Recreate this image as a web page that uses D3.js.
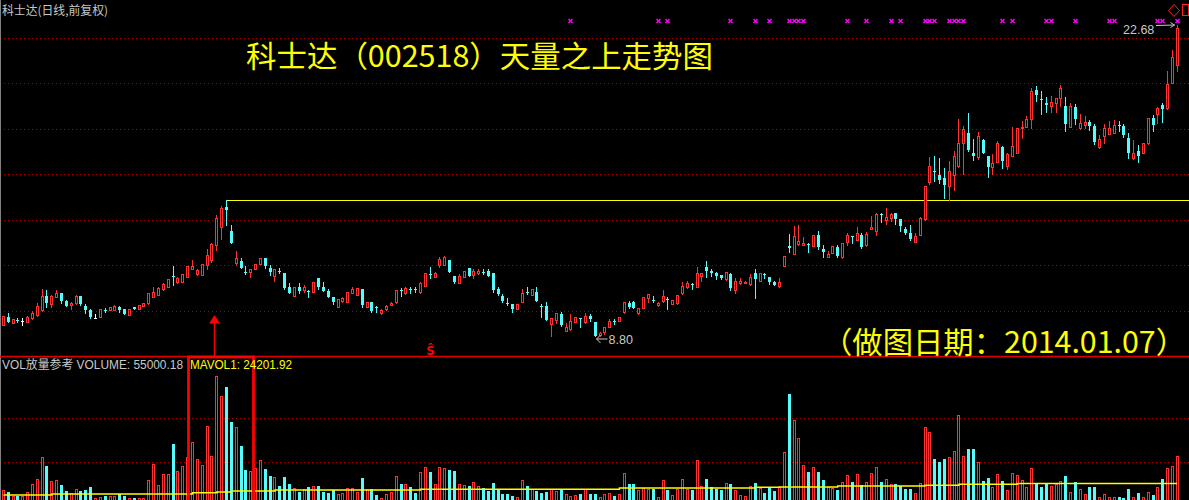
<!DOCTYPE html>
<html><head><meta charset="utf-8">
<script src="https://cdn.jsdelivr.net/npm/d3@7"></script>
<style>html,body{margin:0;padding:0;background:#000;overflow:hidden}svg{display:block}</style>
</head><body><svg id="c" width="1189" height="500"></svg>
<script>
// ---------------- data ----------------
const open = [
9.29,9.66,9.37,9.53,9.47,9.44,9.59,9.74,9.96,10.58,
10.21,10.55,10.70,10.37,10.20,10.26,10.58,10.14,9.96,9.62,
9.66,9.96,9.96,9.96,10.11,9.99,9.74,10.08,10.02,10.15,
10.26,10.55,10.63,10.88,11.00,11.47,11.22,11.21,11.44,11.80,
11.56,11.52,11.96,12.19,12.85,13.64,14.56,13.48,12.07,12.14,
11.64,11.65,11.79,12.01,12.26,11.82,11.47,11.71,11.59,11.00,
10.58,10.97,10.85,10.82,10.77,11.37,10.97,10.82,10.52,10.11,
10.36,10.33,10.73,10.63,10.89,10.11,10.30,10.11,9.82,9.99,
10.20,10.30,10.86,10.70,10.89,10.91,10.75,11.04,11.56,11.44,
11.95,11.96,12.19,11.47,11.17,11.44,11.82,11.52,11.59,11.67,
11.70,11.59,10.89,10.58,10.28,10.21,10.00,10.33,10.76,10.63,
10.77,10.15,10.14,9.34,9.51,9.78,9.04,9.10,9.44,9.60,
9.44,9.69,9.42,8.84,8.99,9.21,9.48,9.47,9.86,10.26,
10.33,9.81,10.06,10.48,10.42,10.18,10.36,10.45,10.23,10.26,
10.70,10.97,11.13,11.00,11.49,11.89,11.70,11.62,11.52,11.33,
11.55,10.85,11.15,11.17,11.10,11.59,11.26,11.58,11.42,11.22,
11.03,11.92,12.81,12.45,12.90,12.85,12.90,12.81,13.30,12.68,
12.33,12.51,12.78,12.31,13.00,13.24,13.08,13.30,12.85,13.57,
13.49,14.25,13.97,14.07,14.29,14.01,13.58,13.40,13.00,13.30,
14.00,15.66,16.17,15.97,15.85,15.48,15.97,16.38,17.39,17.86,
16.97,16.76,17.53,16.82,16.32,16.57,17.21,16.39,16.83,16.97,
18.06,18.13,18.46,19.76,19.36,19.19,19.06,19.17,19.39,19.05,
18.13,18.99,18.06,18.20,18.35,18.16,17.21,17.71,17.80,17.86,
18.21,18.16,17.61,16.72,17.04,16.97,17.39,18.50,18.68,19.09,
18.95,20.09,20.88];
const high = [
9.69,9.84,9.56,9.62,9.59,9.69,9.91,10.26,10.88,10.85,
10.63,10.85,10.73,10.40,10.33,10.63,10.60,10.23,9.99,9.78,
10.00,10.03,10.11,10.18,10.14,10.00,10.00,10.11,10.20,10.27,
10.72,11.00,10.97,11.15,11.34,11.92,11.42,11.58,11.93,12.19,
11.77,12.02,12.66,12.93,14.19,14.59,14.85,13.75,12.59,12.29,
11.92,11.79,12.01,12.28,12.28,11.96,11.79,11.84,11.60,11.15,
10.98,11.15,11.07,10.85,11.21,11.38,11.19,10.89,10.54,10.45,
10.52,10.76,10.97,10.95,10.89,10.32,10.32,10.14,10.00,10.17,
10.33,10.86,10.92,10.97,10.97,10.97,11.19,11.61,11.86,11.64,
12.33,12.35,12.20,11.49,11.56,11.71,11.83,11.77,11.77,11.79,
11.77,11.60,11.00,10.67,10.48,10.23,10.23,10.88,11.00,10.89,
10.97,10.21,10.30,9.60,9.84,9.88,9.39,9.78,9.65,9.60,
9.84,9.78,9.44,8.98,9.20,9.54,9.56,9.65,10.32,10.37,
10.35,10.05,10.54,10.67,10.60,10.32,10.85,10.55,10.42,10.64,
11.19,11.25,11.15,11.89,11.61,12.14,11.79,11.64,11.53,11.65,
11.62,11.37,11.37,11.23,11.56,11.79,11.61,11.59,11.43,11.24,
11.37,12.38,13.35,13.70,13.75,13.20,12.93,13.31,13.48,12.85,
12.59,12.82,12.85,12.94,13.40,13.26,13.64,13.40,13.45,14.15,
14.27,14.27,14.52,14.29,14.29,14.01,13.67,13.75,13.40,14.09,
15.50,16.78,16.82,16.72,16.30,16.60,17.04,18.46,18.16,18.75,
17.58,17.90,17.58,16.83,16.91,17.49,17.27,16.94,18.10,18.07,
18.38,18.60,19.84,19.94,19.72,19.46,19.49,19.40,19.98,19.44,
19.17,19.14,18.69,18.60,18.42,18.25,17.76,18.25,18.38,18.42,
18.38,18.25,17.83,17.53,17.31,17.40,18.53,18.65,19.02,19.20,
20.61,21.54,22.68];
const low = [
9.29,9.44,9.36,9.42,9.29,9.42,9.54,9.70,9.92,10.10,
10.10,10.54,10.26,10.14,10.00,10.24,10.20,9.81,9.59,9.62,
9.65,9.88,9.95,9.95,9.88,9.77,9.72,9.99,10.00,10.14,
10.24,10.52,10.61,10.86,10.98,11.07,11.15,11.19,11.43,11.79,
11.52,11.50,11.77,12.11,12.63,13.12,13.75,12.94,11.96,11.82,
11.58,11.44,11.77,11.99,11.83,11.52,11.26,11.59,10.91,10.72,
10.57,10.70,10.75,10.52,10.76,10.89,10.80,10.54,10.23,10.09,
10.32,10.32,10.70,10.61,10.10,10.09,9.87,9.85,9.78,9.96,
10.18,10.28,10.58,10.68,10.70,10.75,10.73,11.03,11.40,11.43,
11.86,11.95,11.65,11.17,11.15,11.43,11.47,11.40,11.55,11.56,
11.47,10.75,10.63,10.33,10.18,9.88,9.99,10.30,10.67,10.61,
10.36,9.66,9.50,8.81,9.37,9.25,9.02,9.07,9.42,9.21,
9.37,9.48,8.80,8.82,8.89,9.19,9.35,9.45,9.84,10.03,
10.05,9.79,10.05,10.33,10.33,10.15,10.33,9.99,10.21,10.24,
10.67,10.92,10.88,10.98,11.26,11.42,11.47,11.33,11.35,11.31,
10.85,10.73,11.10,11.16,11.07,10.48,11.25,11.40,11.12,11.06,
11.00,11.91,12.54,12.44,12.85,12.84,12.56,12.80,12.66,12.33,
12.32,12.50,12.33,12.29,12.85,12.96,13.06,12.73,12.81,13.55,
13.30,13.89,13.79,13.92,13.79,13.49,13.36,13.08,12.99,13.29,
13.98,15.57,15.72,15.63,14.96,14.86,15.31,16.34,16.02,17.06,
16.64,16.69,16.95,15.87,16.02,16.55,16.27,16.24,16.82,16.95,
17.64,18.11,18.08,19.26,18.69,18.79,18.79,18.79,19.06,17.95,
18.11,18.25,18.04,18.06,17.98,17.36,17.19,17.41,17.79,17.85,
17.95,17.68,16.74,16.70,16.57,16.94,17.37,17.95,18.28,18.35,
18.93,20.07,20.62];
const close = [
9.69,9.44,9.54,9.50,9.47,9.66,9.81,10.14,10.58,10.26,
10.58,10.70,10.37,10.15,10.28,10.60,10.21,9.96,9.66,9.62,
9.99,9.91,10.08,10.14,9.96,9.78,9.99,10.02,10.18,10.26,
10.70,10.77,10.95,11.10,11.33,11.42,11.37,11.56,11.92,11.94,
11.74,12.01,12.41,12.90,14.04,14.49,14.41,12.96,12.26,11.83,
11.59,11.77,11.99,12.26,11.92,11.67,11.77,11.68,10.92,10.73,
10.97,10.82,10.97,10.79,11.19,11.00,10.82,10.55,10.33,10.44,
10.48,10.75,10.89,10.94,10.18,10.30,9.91,10.07,9.96,10.15,
10.27,10.85,10.84,10.95,10.86,10.88,11.17,11.59,11.53,11.62,
12.22,12.33,11.67,11.19,11.47,11.70,11.49,11.70,11.70,11.64,
11.49,10.85,10.66,10.37,10.26,9.99,10.21,10.73,10.73,10.88,
10.37,10.12,9.51,9.59,9.81,9.29,9.21,9.48,9.63,9.57,
9.69,9.54,8.81,8.93,9.19,9.48,9.45,9.63,10.30,10.11,
10.06,10.03,10.52,10.66,10.39,10.25,10.58,10.42,10.40,10.63,
11.04,11.15,11.10,11.62,11.59,11.71,11.59,11.47,11.37,11.64,
10.92,11.25,11.25,11.21,11.44,11.33,11.59,11.55,11.22,11.07,
11.22,12.36,12.72,13.26,13.03,12.93,12.87,13.30,12.78,12.56,
12.45,12.81,12.36,12.93,13.30,13.21,13.38,12.75,13.35,13.64,
14.22,14.22,14.12,14.22,14.01,13.70,13.38,13.11,13.27,14.07,
15.48,16.37,16.14,15.75,15.53,16.15,16.82,17.39,18.01,17.09,
16.82,17.71,16.97,16.32,16.52,17.39,16.61,16.90,17.27,18.06,
18.13,18.46,19.72,19.54,19.33,19.09,19.24,19.39,19.84,18.25,
19.05,18.46,18.28,18.35,18.17,17.46,17.57,18.06,18.06,18.20,
18.19,17.76,16.97,16.97,16.82,17.39,18.50,18.20,18.95,18.91,
20.02,21.24,22.51];
const volume = [
16900,14300,10500,10500,10500,14300,23300,29300,53800,44000,
27000,28200,22500,15800,13200,17700,15800,16900,20600,8200,
9400,10500,10500,10500,12400,10500,8200,8200,8200,8200,
28200,46200,22500,34900,34900,68700,38300,44000,54400,71300,
51500,45100,89000,55200,145400,122800,133300,93900,87600,66500,
39400,38300,41400,50700,40600,32700,31900,21400,31900,23300,
19500,14700,17700,19900,21400,21400,14300,13200,16900,12100,
13200,19500,18800,15000,30800,18000,17700,11300,8200,12400,
14300,32700,23700,23700,20300,13200,36900,42500,36900,23700,
42500,41400,39400,38300,23700,22500,21400,25600,21400,19200,
16100,24800,17700,12400,12400,10100,9000,28200,21400,17700,
15800,13500,14700,17700,15800,16900,12400,10100,11300,12400,
17700,12400,12400,9000,12400,13500,10100,12400,36100,23700,
23700,16900,19200,18000,18000,9000,28200,16900,11300,18000,
29300,18000,16900,50700,21400,29300,20300,18000,16900,24800,
23700,16900,11300,10100,21400,24800,19200,13500,19200,15800,
20300,59700,125100,95800,75500,45100,37200,42800,37200,28200,
20300,19200,16900,25900,33800,25900,34900,22500,25900,36100,
42800,25900,29300,23700,23700,21400,18000,18000,13500,24800,
87900,82300,51800,48500,51800,54100,60900,101400,55200,63100,
63100,48500,27000,30400,20300,34900,27000,16900,36100,33800,
28200,20300,41700,23700,20300,23700,21400,23700,27000,32700,
14700,25900,18000,12400,20300,20300,9000,12400,9000,9000,
9000,7900,18000,9000,13500,9000,14700,11300,20300,29300,
41700,44000,55000.18];
// MAVOL1: [first bar index, value]
const maVolSteps = [[0,11270],[10,12400],[39,13860],[44,14650],[47,15780],[56,16900],
  [86,17690],[127,19160],[155,19950],[160,20290],[172,21410],[190,22200],[197,23330],[209,24201.92]];
const signalIdx = [117,135,137,150,155,158,162,163,164,165,174,178,183,185,190,191,192,
  195,196,197,198,206,208,215,216,221,228,229,238,239,242];
const highIdx = 242, lowIdx = 122;
const highLabel = "22.68", lowLabel = "8.80";
const resistanceLevel = 14.85, resistanceStart = 46;
const volumeMarkIdx = 44, sMarkIdx = 88;
const titleText = "科士达（002518）天量之上走势图";
const dateText = "（做图日期：2014.01.07）";
const headerText = "科士达(日线,前复权)";
const volLabel = "VOL放量参考 VOLUME: 55000.18";
const maLabel = "MAVOL1: 24201.92";

// ---------------- drawing ----------------
const W = 1189, H = 500, N = close.length;
const sepY = 356;
const RED = "#ff3232", CYAN = "#54fcfc", YEL = "#ffff00", GRID = "#b00000";
const svg = d3.select("#c");
svg.append("rect").attr("width", W).attr("height", H).attr("fill", "#000");

const x = d3.scaleLinear().domain([0, N - 1]).range([3.3, 1177.3]);
const y = d3.scaleLinear().domain([8.80, 22.68]).range([336, 24.5]);
const yv = d3.scaleLinear().domain([0, 150000]).range([505, 505 - 150000 / 1127]);
const px = i => Math.round(x(i) - 0.5);   // pixel column of candle i
const ry = v => Math.round(v);

// grid
const g0 = svg.append("g").attr("stroke", GRID).attr("stroke-dasharray", "1,3").attr("stroke-width", 1);
d3.range(1, 8).forEach(k => {
  const yy = Math.round(sepY - k * 45.5) + 0.5;
  g0.append("line").attr("x1", 0).attr("x2", W).attr("y1", yy).attr("y2", yy);
});
[1, 2].forEach(k => {
  const yy = Math.round(505 - k * 43.35) + 0.5;
  g0.append("line").attr("x1", 0).attr("x2", W).attr("y1", yy).attr("y2", yy);
});

// left border
svg.append("line").attr("x1", 0.5).attr("x2", 0.5).attr("y1", 0).attr("y2", H).attr("stroke", "#808080");

// resistance line
svg.append("line").attr("x1", px(resistanceStart)).attr("x2", W)
  .attr("y1", ry(y(resistanceLevel)) + 0.5).attr("y2", ry(y(resistanceLevel)) + 0.5)
  .attr("stroke", YEL).attr("stroke-width", 1);

// candles
const kind = i => close[i] > open[i] ? "up" : (close[i] < open[i] ? "down" : "flat");
const gc = svg.append("g").attr("shape-rendering", "crispEdges");
for (let i = 0; i < N; i++) {
  const c = px(i), k = kind(i);
  const yH = ry(y(high[i])), yL = ry(y(low[i]));
  const yT = ry(y(Math.max(open[i], close[i]))), yB = ry(y(Math.min(open[i], close[i])));
  if (k === "up") {
    if (yT > yH) gc.append("line").attr("x1", c + 0.5).attr("x2", c + 0.5).attr("y1", yH).attr("y2", yT).attr("stroke", RED);
    if (yL > yB) gc.append("line").attr("x1", c + 0.5).attr("x2", c + 0.5).attr("y1", yB).attr("y2", yL + 1).attr("stroke", RED);
    gc.append("rect").attr("x", c - 0.5).attr("y", yT + 0.5).attr("width", 2).attr("height", Math.max(1, yB - yT))
      .attr("fill", "#000").attr("stroke", RED).attr("stroke-width", 1);
  } else if (k === "down") {
    gc.append("line").attr("x1", c + 0.5).attr("x2", c + 0.5).attr("y1", yH).attr("y2", yL + 1).attr("stroke", CYAN);
    gc.append("rect").attr("x", c - 1).attr("y", yT).attr("width", 3).attr("height", Math.max(1, yB - yT)).attr("fill", CYAN);
  } else {
    gc.append("line").attr("x1", c + 0.5).attr("x2", c + 0.5).attr("y1", yH).attr("y2", yL + 1).attr("stroke", "#fff");
    gc.append("line").attr("x1", c - 1).attr("x2", c + 2).attr("y1", yT + 0.5).attr("y2", yT + 0.5).attr("stroke", "#fff");
  }
}

// volume bars
const gvb = svg.append("g").attr("shape-rendering", "crispEdges");
for (let i = 0; i < N; i++) {
  const c = px(i), up = close[i] >= open[i];
  const t = ry(yv(volume[i]));
  if (up) gvb.append("rect").attr("x", c - 0.5).attr("y", t + 0.5).attr("width", 2).attr("height", 505 - t)
    .attr("fill", "#000").attr("stroke", RED);
  else gvb.append("rect").attr("x", c - 1).attr("y", t).attr("width", 3).attr("height", 505 - t).attr("fill", CYAN);
}
// MAVOL line
const maPts = maVolSteps.map(d => [x(d[0]), yv(d[1])]);
maPts.push([x(N - 1), yv(maVolSteps[maVolSteps.length - 1][1])]);
svg.append("path").attr("d", d3.line().curve(d3.curveStepAfter)(maPts))
  .attr("fill", "none").attr("stroke", YEL).attr("stroke-width", 1.4);

// separator
svg.append("line").attr("x1", 0).attr("x2", W).attr("y1", sepY + 0.5).attr("y2", sepY + 0.5)
  .attr("stroke", "#e00000").attr("stroke-width", 1.6);

// signal markers
const gm = svg.append("g").attr("stroke", "#ff00ff").attr("stroke-width", 1.5).attr("fill", "none");
signalIdx.forEach(i => {
  const c = px(i) + 0.5, yy = 21;
  gm.append("path").attr("d", `M${c - 2},${yy - 2}L${c + 2},${yy + 2}M${c + 2},${yy - 2}L${c - 2},${yy + 2}`);
});

// big-volume box + arrow
const boxL = px(volumeMarkIdx - 6) + 1.5, boxR = px(volumeMarkIdx + 7) + 3.5;
svg.append("rect").attr("x", boxL).attr("y", sepY + 1).attr("width", boxR - boxL).attr("height", 160)
  .attr("fill", "none").attr("stroke", "#ff0000").attr("stroke-width", 2.8);
const ax = px(volumeMarkIdx) - 1.5;
svg.append("line").attr("x1", ax).attr("x2", ax).attr("y1", 322).attr("y2", sepY)
  .attr("stroke", "#ff0000").attr("stroke-width", 1.5);
svg.append("path").attr("d", `M${ax},315L${ax - 5.5},323.5L${ax + 5.5},323.5Z`).attr("fill", "#ff0000");

// S mark
svg.append("text").attr("x", px(sMarkIdx) + 0.5).attr("y", 355).attr("text-anchor", "middle")
  .attr("font-family", "DejaVu Sans").attr("font-size", 12).attr("font-weight", "bold")
  .attr("fill", "#ff0000").text("Ŝ");

// top right icons
svg.append("path").attr("d", "M1174,4.5L1179.5,10.5L1174,16.5L1168.5,10.5Z").attr("fill", "none").attr("stroke", "#ff2020");
svg.append("rect").attr("x", 1182.5).attr("y", 4.5).attr("width", 6).attr("height", 11).attr("fill", "none").attr("stroke", "#ff2020");

// high / low labels
const hx = px(highIdx) + 0.5, hy = y(high[highIdx]);
svg.append("text").attr("x", 1123).attr("y", 34).attr("font-family", "Liberation Sans, Arial, sans-serif")
  .attr("font-size", 12.5).attr("fill", "#c8c8c8").text(highLabel);
svg.append("path").attr("d", `M1156,25.5L${hx - 3},${hy + 0.5}M${hx - 7},${hy - 2}L${hx - 3},${hy + 0.5}L${hx - 7},${hy + 3}`)
  .attr("fill", "none").attr("stroke", "#c8c8c8").attr("stroke-width", 1);
const lx = px(lowIdx) + 0.5, ly = y(low[lowIdx]) + 3;
svg.append("path").attr("d", `M${lx + 12},${ly}L${lx + 1},${ly}M${lx + 5},${ly - 4}L${lx + 1},${ly}L${lx + 5},${ly + 4}`)
  .attr("fill", "none").attr("stroke", "#c8c8c8").attr("stroke-width", 1);
svg.append("text").attr("x", lx + 13).attr("y", 344).attr("font-family", "Liberation Sans, Arial, sans-serif")
  .attr("font-size", 12.5).attr("fill", "#c8c8c8").text(lowLabel);

// texts
svg.append("text").attr("x", 2).attr("y", 15).attr("font-family", "Noto Sans CJK SC")
  .attr("font-size", 12).attr("fill", "#c8c8c8").attr("textLength", 106).attr("lengthAdjust", "spacingAndGlyphs").text(headerText);
svg.append("text").attr("x", 246).attr("y", 67).attr("font-family", "Noto Sans CJK SC")
  .attr("font-size", 30).attr("fill", YEL).attr("textLength", 467).attr("lengthAdjust", "spacingAndGlyphs").text(titleText);
svg.append("text").attr("x", 822).attr("y", 353).attr("font-family", "Noto Sans CJK SC")
  .attr("font-size", 30).attr("fill", YEL).attr("textLength", 364).attr("lengthAdjust", "spacingAndGlyphs").text(dateText);
svg.append("text").attr("x", 2).attr("y", 369).attr("font-family", "Liberation Sans, Noto Sans CJK SC")
  .attr("font-size", 12).attr("fill", "#c8c8c8").attr("textLength", 181).attr("lengthAdjust", "spacingAndGlyphs").text(volLabel);
svg.append("text").attr("x", 190).attr("y", 369).attr("font-family", "Liberation Sans, Arial, sans-serif")
  .attr("font-size", 12).attr("fill", YEL).attr("textLength", 102).attr("lengthAdjust", "spacingAndGlyphs").text(maLabel);
</script>
</body></html>
